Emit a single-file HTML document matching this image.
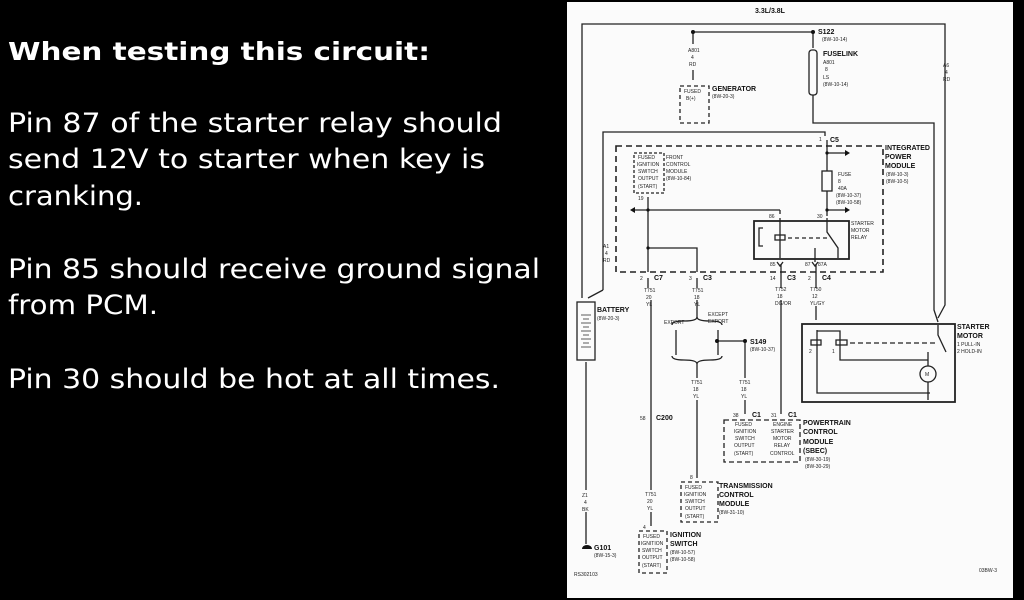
<!DOCTYPE html>
<html><head><meta charset="utf-8"><style>
html,body{margin:0;padding:0;background:#000;width:1024px;height:600px;overflow:hidden}
svg{display:block}
.t{font-family:"DejaVu Sans",sans-serif;fill:#fff}
.s{font-family:"Liberation Sans",sans-serif;fill:#222;font-size:5px}
.b{font-family:"Liberation Sans",sans-serif;fill:#111;font-size:7px;font-weight:bold}
</style></head><body>
<svg width="1024" height="600" viewBox="0 0 1024 600" xmlns="http://www.w3.org/2000/svg">
<rect width="1024" height="600" fill="#000"/>
<text class="t" x="8" y="60" font-size="25" font-weight="bold" textLength="422" lengthAdjust="spacingAndGlyphs">When testing this circuit:</text>
<text class="t" x="8" y="132" font-size="27" textLength="494" lengthAdjust="spacingAndGlyphs">Pin 87 of the starter relay should</text>
<text class="t" x="8" y="168" font-size="27" textLength="477" lengthAdjust="spacingAndGlyphs">send 12V to starter when key is</text>
<text class="t" x="8" y="205" font-size="27" textLength="135" lengthAdjust="spacingAndGlyphs">cranking.</text>
<text class="t" x="8" y="278" font-size="27" textLength="532" lengthAdjust="spacingAndGlyphs">Pin 85 should receive ground signal</text>
<text class="t" x="8" y="314" font-size="27" textLength="150" lengthAdjust="spacingAndGlyphs">from PCM.</text>
<text class="t" x="8" y="388" font-size="27" textLength="492" lengthAdjust="spacingAndGlyphs">Pin 30 should be hot at all times.</text>

<rect x="567" y="2" width="446" height="596" fill="#fbfbfb"/>
<g stroke="#222" stroke-width="1.3" fill="none">
<polyline points="582,298 582,24 945,24 945,305 938,318"/>
<line x1="693" y1="32" x2="813" y2="32"/>
<line x1="693" y1="32" x2="693" y2="44"/><line x1="693" y1="70" x2="693" y2="80"/>
<rect x="680" y="86" width="29" height="37" stroke-dasharray="4,3"/>
<line x1="813" y1="32" x2="813" y2="48"/>
<rect x="809" y="50" width="8" height="45" rx="3"/>
<polyline points="813,95 813,123 934,123 934,310 938,322"/>
<polyline points="603,290 603,132 825,132 825,136"/>
<line x1="603" y1="290" x2="588" y2="298"/>
<rect x="616" y="146" width="267" height="126" stroke-dasharray="6,4" stroke-width="1.6"/>
<rect x="634" y="153" width="30" height="40" stroke-dasharray="3,2"/>
<line x1="648" y1="197" x2="648" y2="272"/>
<line x1="633" y1="210" x2="780" y2="210"/><line x1="780" y1="210" x2="780" y2="214"/>
<polyline points="648,248 697,248 697,272"/>
<line x1="827" y1="140" x2="827" y2="216"/>
<line x1="827" y1="153" x2="845" y2="153"/><line x1="827" y1="210" x2="845" y2="210"/>
<rect x="822" y="171" width="10" height="20" fill="#fbfbfb"/>
<rect x="754" y="221" width="95" height="38" stroke-width="1.8"/>
<polyline points="780,218 780,258"/>
<path d="M763,228 h-4 v18 h4"/>
<rect x="775" y="235" width="10" height="5"/>
<line x1="788" y1="238" x2="830" y2="238" stroke-dasharray="4,3"/>
<polyline points="827,218 827,232 838,248 838,258"/>
<line x1="815" y1="248" x2="815" y2="262"/>
<path d="M777,262 l3,4 l3,-4 M812,262 l3,4 l3,-4"/>
<line x1="648" y1="278" x2="648" y2="288"/><line x1="697" y1="278" x2="697" y2="288"/>
<line x1="781" y1="264" x2="781" y2="288"/><line x1="816" y1="264" x2="816" y2="288"/>
<!-- lower -->
<rect x="577" y="302" width="18" height="58"/>
<line x1="586" y1="362" x2="586" y2="490"/><line x1="586" y1="512" x2="586" y2="544"/>
<line x1="651" y1="300" x2="651" y2="490"/><line x1="651" y1="512" x2="651" y2="526"/>
<rect x="639" y="531" width="28" height="42" stroke-dasharray="4,3"/>
<line x1="697" y1="300" x2="697" y2="318"/>
<path d="M672,325 q0,-4 12,-4 q13,0 13,-4 q0,4 13,4 q12,0 12,4"/>
<path d="M672,356 q0,4 12,4 q13,0 13,4 q0,-4 13,-4 q12,0 12,-4"/>
<line x1="676" y1="330" x2="676" y2="355"/><line x1="718" y1="330" x2="718" y2="355"/>
<line x1="697" y1="364" x2="697" y2="378"/><line x1="697" y1="400" x2="697" y2="478"/>
<rect x="681" y="482" width="37" height="40" stroke-dasharray="4,3"/>
<line x1="717" y1="341" x2="745" y2="341"/>
<line x1="745" y1="341" x2="745" y2="378"/><line x1="745" y1="400" x2="745" y2="414"/>
<line x1="781" y1="300" x2="781" y2="414"/>
<line x1="816" y1="306" x2="816" y2="320"/>
<rect x="724" y="420" width="76" height="42" stroke-dasharray="5,3"/>
<rect x="802" y="324" width="153" height="78" stroke-width="1.8"/>
<polyline points="817,330 817,393 930,393"/>
<polyline points="817,331 840,331 840,360 928,360"/>
<rect x="811" y="340" width="10" height="5"/><rect x="836" y="340" width="11" height="5"/>
<line x1="850" y1="343" x2="935" y2="343" stroke-dasharray="5,3"/>
<polyline points="938,325 938,335 946,352"/>
<line x1="928" y1="352" x2="928" y2="400"/>
<circle cx="928" cy="374" r="8" fill="#fbfbfb"/>
</g>
<g stroke="#333" stroke-width="0.8">
<line x1="581" y1="315" x2="591" y2="315"/><line x1="583" y1="319" x2="589" y2="319"/>
<line x1="581" y1="323" x2="591" y2="323"/><line x1="583" y1="327" x2="589" y2="327"/>
<line x1="581" y1="331" x2="591" y2="331"/><line x1="583" y1="335" x2="589" y2="335"/>
<line x1="581" y1="339" x2="591" y2="339"/><line x1="583" y1="343" x2="589" y2="343"/>
<line x1="581" y1="347" x2="591" y2="347"/>
</g>
<g fill="#111">
<circle cx="693" cy="32" r="2"/><circle cx="813" cy="32" r="2"/>
<circle cx="827" cy="153" r="1.6"/><circle cx="827" cy="210" r="1.6"/>
<circle cx="648" cy="210" r="1.6"/><circle cx="648" cy="248" r="1.6"/>
<circle cx="717" cy="341" r="2"/><circle cx="745" cy="341" r="2"/>
<path d="M845,150 l5,3 l-5,3z"/><path d="M845,207 l5,3 l-5,3z"/><path d="M631,207 l-5,3 l5,3z" transform="translate(4,0)"/>
<path d="M582,549 a5,4 0 0 1 10,0z"/>
</g>
<text class="b" x="755" y="13" font-size="7">3.3L/3.8L</text>
<text class="b" x="818" y="34">S122</text><text class="s" x="822" y="41">(8W-10-14)</text>
<text class="b" x="823" y="56">FUSELINK</text>
<text class="s" x="823" y="64">A801</text><text class="s" x="825" y="71">8</text><text class="s" x="823" y="79">LS</text><text class="s" x="823" y="86">(8W-10-14)</text>
<text class="s" x="688" y="52">A801</text><text class="s" x="691" y="59">4</text><text class="s" x="689" y="66">RD</text>
<text class="s" x="684" y="93">FUSED</text><text class="s" x="686" y="100">B(+)</text>
<text class="b" x="712" y="91">GENERATOR</text><text class="s" x="712" y="98">(8W-20-3)</text>
<text class="s" x="943" y="67">A6</text><text class="s" x="945" y="74">4</text><text class="s" x="943" y="81">RD</text>
<text class="s" x="819" y="141">1</text><text class="b" x="830" y="142">C5</text>
<text class="b" x="885" y="150">INTEGRATED</text><text class="b" x="885" y="159">POWER</text><text class="b" x="885" y="168">MODULE</text>
<text class="s" x="886" y="176">(8W-10-3)</text><text class="s" x="886" y="183">(8W-10-5)</text>
<text class="s" x="838" y="176">FUSE</text><text class="s" x="838" y="183">8</text><text class="s" x="838" y="190">40A</text>
<text class="s" x="836" y="197">(8W-10-37)</text><text class="s" x="836" y="204">(8W-10-58)</text>
<text class="s" x="638" y="159">FUSED</text><text class="s" x="637" y="166">IGNITION</text><text class="s" x="638" y="173">SWITCH</text><text class="s" x="638" y="180">OUTPUT</text><text class="s" x="638" y="188">(START)</text>
<text class="s" x="666" y="159">FRONT</text><text class="s" x="666" y="166">CONTROL</text><text class="s" x="666" y="173">MODULE</text><text class="s" x="666" y="180">(8W-10-84)</text>
<text class="s" x="638" y="200">19</text><text class="s" x="769" y="218">86</text><text class="s" x="817" y="218">30</text>
<text class="s" x="851" y="225">STARTER</text><text class="s" x="851" y="232">MOTOR</text><text class="s" x="851" y="239">RELAY</text>
<text class="s" x="770" y="266">85</text><text class="s" x="805" y="266">87</text><text class="s" x="818" y="266">87A</text>
<text class="s" x="603" y="248">A1</text><text class="s" x="605" y="255">4</text><text class="s" x="603" y="262">RD</text>
<text class="s" x="640" y="280">2</text><text class="b" x="654" y="280">C7</text>
<text class="s" x="689" y="280">3</text><text class="b" x="703" y="280">C3</text>
<text class="s" x="770" y="280">14</text><text class="b" x="787" y="280">C3</text>
<text class="s" x="808" y="280">2</text><text class="b" x="822" y="280">C4</text>
<text class="s" x="644" y="292">T751</text><text class="s" x="646" y="299">20</text><text class="s" x="646" y="306">YL</text>
<text class="s" x="692" y="292">T751</text><text class="s" x="694" y="299">18</text><text class="s" x="694" y="306">YL</text>
<text class="s" x="775" y="291">T752</text><text class="s" x="777" y="298">18</text><text class="s" x="775" y="305">DG/OR</text>
<text class="s" x="810" y="291">T750</text><text class="s" x="812" y="298">12</text><text class="s" x="810" y="305">YL/GY</text>
<text class="b" x="597" y="312">BATTERY</text><text class="s" x="597" y="320">(8W-20-3)</text>
<text class="s" x="664" y="324">EXPORT</text><text class="s" x="708" y="316">EXCEPT</text><text class="s" x="708" y="323">EXPORT</text>
<text class="b" x="750" y="344">S149</text><text class="s" x="750" y="351">(8W-10-37)</text>
<text class="s" x="691" y="384">T751</text><text class="s" x="693" y="391">18</text><text class="s" x="693" y="398">YL</text>
<text class="s" x="739" y="384">T751</text><text class="s" x="741" y="391">18</text><text class="s" x="741" y="398">YL</text>
<text class="s" x="640" y="420">58</text><text class="b" x="656" y="420">C200</text>
<text class="s" x="733" y="417">38</text><text class="b" x="752" y="417">C1</text>
<text class="s" x="771" y="417">31</text><text class="b" x="788" y="417">C1</text>
<text class="s" x="735" y="426">FUSED</text><text class="s" x="734" y="433">IGNITION</text><text class="s" x="735" y="440">SWITCH</text><text class="s" x="734" y="447">OUTPUT</text><text class="s" x="734" y="455">(START)</text>
<text class="s" x="773" y="426">ENGINE</text><text class="s" x="771" y="433">STARTER</text><text class="s" x="773" y="440">MOTOR</text><text class="s" x="774" y="447">RELAY</text><text class="s" x="770" y="455">CONTROL</text>
<text class="b" x="803" y="425">POWERTRAIN</text><text class="b" x="803" y="434">CONTROL</text><text class="b" x="803" y="444">MODULE</text><text class="b" x="803" y="453">(SBEC)</text>
<text class="s" x="805" y="461">(8W-30-19)</text><text class="s" x="805" y="468">(8W-30-29)</text>
<text class="b" x="957" y="329">STARTER</text><text class="b" x="957" y="338">MOTOR</text>
<text class="s" x="957" y="346">1 PULL-IN</text><text class="s" x="957" y="353">2 HOLD-IN</text>
<text class="s" x="809" y="353">2</text><text class="s" x="832" y="353">1</text>
<text class="s" x="925" y="376">M</text>
<text class="s" x="690" y="479">8</text>
<text class="s" x="685" y="489">FUSED</text><text class="s" x="684" y="496">IGNITION</text><text class="s" x="685" y="503">SWITCH</text><text class="s" x="685" y="510">OUTPUT</text><text class="s" x="685" y="518">(START)</text>
<text class="b" x="719" y="488">TRANSMISSION</text><text class="b" x="719" y="497">CONTROL</text><text class="b" x="719" y="506">MODULE</text><text class="s" x="719" y="514">(8W-31-10)</text>
<text class="s" x="582" y="497">Z1</text><text class="s" x="584" y="504">4</text><text class="s" x="582" y="511">BK</text>
<text class="s" x="645" y="496">T751</text><text class="s" x="647" y="503">20</text><text class="s" x="647" y="510">YL</text>
<text class="s" x="643" y="529">4</text>
<text class="s" x="643" y="538">FUSED</text><text class="s" x="641" y="545">IGNITION</text><text class="s" x="642" y="552">SWITCH</text><text class="s" x="642" y="559">OUTPUT</text><text class="s" x="642" y="567">(START)</text>
<text class="b" x="670" y="537">IGNITION</text><text class="b" x="670" y="546">SWITCH</text><text class="s" x="670" y="554">(8W-10-57)</text><text class="s" x="670" y="561">(8W-10-58)</text>
<text class="b" x="594" y="550">G101</text><text class="s" x="594" y="557">(8W-15-3)</text>
<text class="s" x="574" y="576">RS302103</text><text class="s" x="979" y="572">03BW-3</text>
</svg>
</body></html>
